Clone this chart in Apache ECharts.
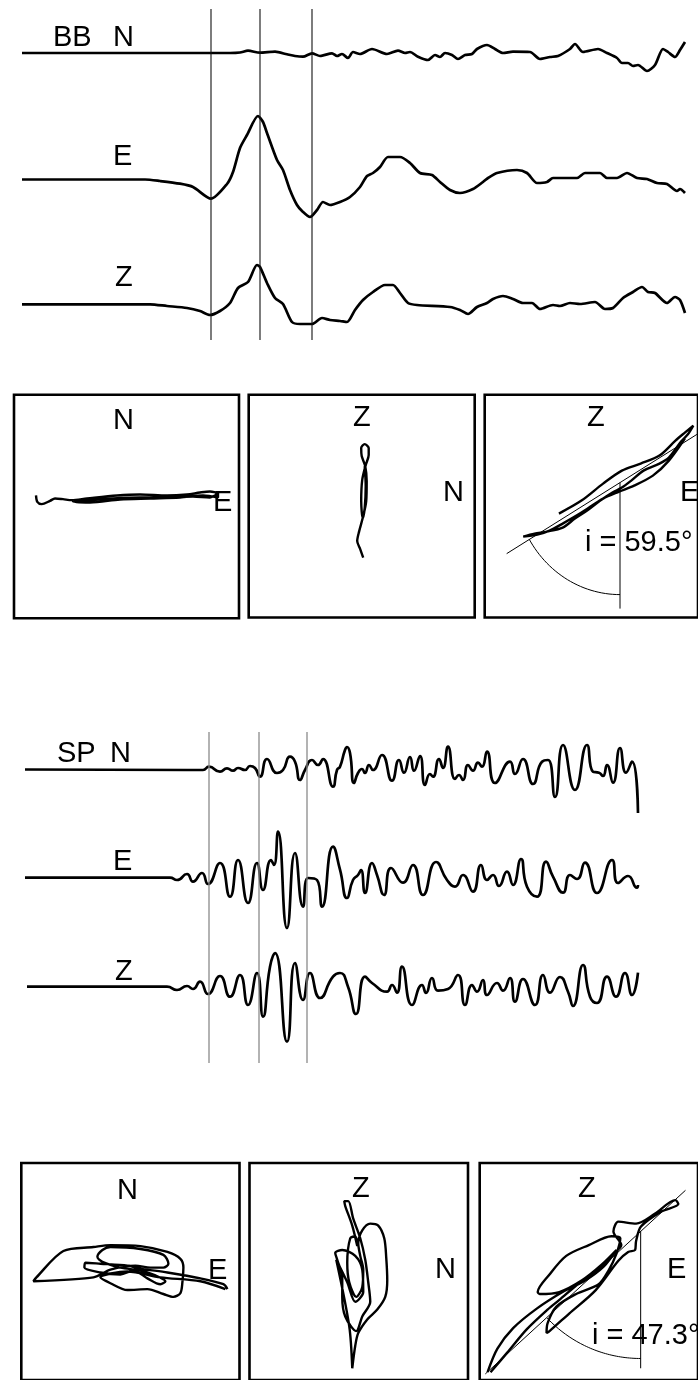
<!DOCTYPE html>
<html>
<head>
<meta charset="utf-8">
<script src="https://cdn.jsdelivr.net/npm/echarts@6/dist/echarts.min.js"></script>
<style>
  html, body { margin: 0; padding: 0; background: #fff; }
  #chart { width: 698px; height: 1380px; }
</style>
</head>
<body>
<div id="chart"></div>
<script>
// ---- Broadband (BB) three-component record: [time s, amplitude] ----
const bbN = [[0,0],[2.08,0],[2.18,0.5],[2.26,2.3],[2.38,0.3],[2.53,1.3],[2.65,-1.3],[2.73,-3],[2.81,-3.7],[2.90,-0.3],[2.98,-3],[3.10,-0.3],[3.15,-3],[3.20,-1],[3.26,-5],[3.31,1],[3.38,-1],[3.50,4],[3.65,-1],[3.76,2.3],[3.83,0],[3.88,1],[3.96,-3.7],[4.06,-7],[4.13,-2],[4.18,-4],[4.23,0],[4.30,-2],[4.36,-6],[4.43,-2],[4.50,-1],[4.55,4],[4.65,8],[4.73,4],[4.81,0],[4.91,1.3],[5.08,1],[5.18,-6],[5.28,-4],[5.36,-3],[5.48,4],[5.53,9],[5.61,1],[5.76,4],[5.85,0],[5.95,-5],[6.00,-10],[6.06,-10],[6.11,-13],[6.16,-12],[6.25,-18],[6.33,-12],[6.41,4],[6.46,1],[6.53,-4],[6.58,3],[6.63,11]];
const bbE = [[0,0],[1.23,0],[1.38,-1.5],[1.58,-4.2],[1.71,-7.5],[1.89,-19.2],[2.05,-4.5],[2.11,7.5],[2.18,31.5],[2.25,44.5],[2.36,63.5],[2.41,57.5],[2.45,46.5],[2.55,19.5],[2.61,9.5],[2.68,-10.5],[2.75,-25.5],[2.81,-32.5],[2.88,-37.5],[2.95,-30.5],[3.01,-22.5],[3.08,-25.5],[3.18,-22.5],[3.28,-17.5],[3.38,-7.5],[3.45,3.5],[3.51,6.5],[3.58,12.5],[3.66,22.5],[3.78,22.5],[3.88,16.5],[3.98,6.5],[4.10,4.5],[4.18,-2.5],[4.28,-10.5],[4.38,-13.5],[4.51,-9.5],[4.61,-2.5],[4.66,1.5],[4.75,6.5],[4.95,9.5],[5.05,6.5],[5.15,-3.5],[5.25,-2.5],[5.31,1.5],[5.55,1.5],[5.63,6.5],[5.78,6.5],[5.85,1.5],[5.95,1.5],[6.05,6.5],[6.15,1.5],[6.25,0.5],[6.35,-3.5],[6.45,-4.5],[6.55,-11.5],[6.58,-9.5],[6.63,-13.5]];
const bbZ = [[0,0],[1.28,0],[1.45,-1.7],[1.65,-3.7],[1.78,-6.7],[1.88,-10.7],[1.98,-6.7],[2.08,1.3],[2.16,16.3],[2.26,22.3],[2.35,39.3],[2.38,37.3],[2.45,21.3],[2.53,6.3],[2.61,0.3],[2.70,-17.7],[2.78,-19.7],[2.90,-19.7],[3.00,-13.7],[3.08,-15.7],[3.18,-16.7],[3.25,-17.7],[3.33,-5.7],[3.41,4.3],[3.51,12.3],[3.63,19.3],[3.71,19.3],[3.78,11.3],[3.86,1.3],[3.95,-0.7],[4.28,-2.7],[4.38,-5.7],[4.46,-9.7],[4.55,-2.7],[4.65,1.3],[4.71,5.3],[4.81,8.3],[4.91,5.3],[5.01,1.3],[5.10,1.3],[5.18,-4.7],[5.31,-0.7],[5.38,-1.7],[5.48,1.3],[5.58,0.3],[5.73,2.3],[5.83,-4.7],[5.91,-3.7],[6.01,6.3],[6.11,12.3],[6.20,17.3],[6.26,12.3],[6.33,11.3],[6.45,1.3],[6.53,7.3],[6.58,4.3],[6.63,-8.7]];
const bbWindow = [1.89, 2.38, 2.90];

// ---- Short-period (SP) three-component record: [time s, amplitude] ----
const spN = [[0,0],[1.62,-0.5],[1.78,-0.5],[1.84,2.8],[1.95,-2.2],[2.02,1.2],[2.08,-1.2],[2.13,1.5],[2.20,-0.5],[2.25,3.5],[2.30,1.5],[2.35,-7.2],[2.42,10.5],[2.52,-3.5],[2.58,-0.5],[2.65,12.8],[2.70,7.8],[2.75,-10.5],[2.80,-0.5],[2.87,9.5],[2.93,4.5],[2.98,10.5],[3.08,-17.2],[3.12,-0.5],[3.15,2.8],[3.20,19.5],[3.22,22.5],[3.25,16.5],[3.29,-13.5],[3.33,-3.5],[3.37,0.5],[3.40,-3.5],[3.44,4.5],[3.48,-0.5],[3.57,14.5],[3.67,-11.2],[3.74,9.5],[3.79,-3.2],[3.85,12.5],[3.89,-1.2],[3.95,13.5],[4.00,-15.5],[4.05,-4.5],[4.08,-7.2],[4.14,10.5],[4.18,1.5],[4.23,22.8],[4.30,-9.5],[4.34,-5.5],[4.38,-10.5],[4.43,4.5],[4.48,-1.2],[4.53,6.8],[4.57,2.8],[4.62,17.8],[4.70,-13.5],[4.85,7.8],[4.90,-4.5],[4.98,10.5],[5.08,-14.5],[5.17,7.8],[5.23,9.5],[5.30,-27.5],[5.38,24.5],[5.50,-20.5],[5.62,24.5],[5.68,-2.2],[5.74,-3.2],[5.78,-6.5],[5.82,4.5],[5.88,-13.2],[5.95,21.5],[6.01,-3.2],[6.07,7.8],[6.13,-43.5]];
const spE = [[0,0],[1.45,0],[1.52,-2.3],[1.62,3.7],[1.68,-4],[1.77,4.7],[1.83,-6.3],[1.95,14.7],[2.05,-19],[2.13,17.7],[2.23,-25.3],[2.32,14.7],[2.38,-12.3],[2.46,17.7],[2.49,12.7],[2.53,46],[2.62,-50.3],[2.70,24.7],[2.78,-29],[2.83,-0.3],[2.92,-2.3],[2.97,-29],[3.08,31],[3.15,8],[3.22,-20.3],[3.28,-2.3],[3.33,2.7],[3.36,7.7],[3.40,-15.3],[3.47,14.7],[3.52,2.7],[3.59,-17.3],[3.66,9.7],[3.78,-5],[3.88,12.7],[3.98,-17.3],[4.11,15.7],[4.22,-2.3],[4.30,-9],[4.38,2.7],[4.48,-14],[4.56,12.7],[4.62,-2.3],[4.68,2.7],[4.74,-8.3],[4.82,6],[4.88,-7.3],[4.96,18.7],[5.02,-9],[5.12,-19],[5.21,16],[5.28,1],[5.38,-15],[5.45,2.7],[5.52,-1.3],[5.60,15],[5.72,-15.3],[5.87,17.7],[5.93,-5.3],[6.03,1.7],[6.12,-10],[6.13,-7.3]];
const spZ = [[0.02,0],[1.42,0],[1.52,-3.3],[1.62,0.7],[1.68,-2.3],[1.75,5],[1.83,-7.3],[1.95,10.7],[2.05,-10],[2.15,11.7],[2.23,-18.3],[2.32,13.7],[2.38,-30],[2.45,20],[2.50,33.7],[2.62,-55],[2.70,23.7],[2.78,-13.3],[2.85,13.7],[2.95,-11.3],[3.08,10],[3.15,13.7],[3.23,0],[3.31,-27.3],[3.40,10],[3.47,3.7],[3.62,-5],[3.67,1.7],[3.72,-6],[3.77,20],[3.87,-18.3],[3.97,1.7],[4.01,-6.3],[4.07,8.7],[4.13,-4],[4.23,-2.3],[4.33,11.7],[4.40,-18.3],[4.47,1.7],[4.52,-5],[4.58,6.7],[4.62,-8.3],[4.72,3.7],[4.78,-4],[4.85,8.7],[4.90,-15],[4.98,7.7],[5.10,-18.3],[5.18,11.7],[5.25,-6],[5.35,9.7],[5.43,-5],[5.48,-19.3],[5.58,21.7],[5.65,-10],[5.72,-16.3],[5.82,10],[5.91,-10],[6.00,13.7],[6.07,-8.3],[6.13,14]];
const spWindow = [1.84, 2.34, 2.82];

// ---- Particle motion inside the window ----
// BB: horizontal plane [E, N], vertical N plane [N, Z], vertical E plane [E, Z]
const bbHodoNE = [[-90.5,11],[-89.2,4.6],[-84.8,2.3],[-76.5,5.6],[-71.5,8],[-63.5,7.3],[-54.8,6.3],[-39.5,8],[-9.5,11],[13.5,12],[40.5,11],[60.5,12],[73.5,14],[83.5,15],[90.5,13],[83.5,9],[66.5,10],[40.5,9],[13.5,9],[-13.5,8],[-39.5,6],[-53.5,5],[-36.5,4],[-6.5,7],[23.5,8],[53.5,9],[76.5,11],[91.5,9],[91.5,14]];
const bbHodoZN = [[1.5,-51.5],[-1.5,-43],[-4.5,-35],[-2.5,-25],[1,-12],[4.5,5],[5,25],[3.5,40],[0,50],[-0.5,58],[3,62],[7,58],[7,51],[4,41],[0.5,26],[-0.5,5],[1,-12],[3,-2],[4,20],[3,40]];
const bbHodoZE = [[-34.5,-7.5],[-10.5,5.5],[12.5,22.5],[32.5,35.5],[52.5,42.5],[72.5,50.5],[89.5,65.5],[99.5,73.5],[108.5,80.5],[102.5,71.5],[95.5,64.5],[82.5,48.5],[72.5,42.5],[55.5,35.5],[42.5,25.5],[32.5,18.5],[22.5,13.5],[9.5,5.5],[-4.5,-4.5],[-17.5,-12.5],[-30.5,-21.5],[-47.5,-25.5],[-60.5,-27.5],[-72.5,-30.5],[-57.5,-28.5],[-44.5,-24.5],[-30.5,-17.5],[-10.5,-6.5],[12.5,7.5],[29.5,14.5],[45.5,20.5],[65.5,30.5],[82.5,45.5],[99.5,67.5]];
const bbIncidence = 59.5;

// SP: same three projections
const spHodoNE = [[97,-18],[93,-13],[70,-7],[37,-1],[10,3],[-3,6],[-30,8],[-45,9],[-46,4],[-30,-1],[-10,-3],[3,1],[17,-7],[30,-13],[35,-10],[25,-4],[10,1],[-10,4],[-28,10],[-33,15],[-28,22],[-20,25],[10,23],[33,17],[38,8],[33,4],[20,4],[5,6],[-20,2],[-37,-6],[-97,-10],[-94,-6],[-67,21],[-37,25],[-20,27],[10,26],[37,20],[50,13],[53,4],[52,-11],[50,-22],[43,-26],[33,-23],[17,-18],[-3,-19],[-20,-12],[-30,-6],[-3,0],[30,-6],[70,-10],[95,-18]];
const spHodoZN = [[-6.5,-99],[-3.5,-76],[-0.5,-63],[8.5,-49],[18.5,-39],[26.5,-26],[28.5,-9],[27.5,14],[25.5,34],[19.5,47],[11.5,49],[3.5,42],[-0.5,29],[1.5,16],[4.5,2],[3.5,-16],[-2.5,-26],[-9.5,-11],[-11.5,9],[-8.5,34],[-3.5,36],[-1.5,26],[-6.5,47],[-13.5,67],[-14.5,72],[-10.5,72],[-5.5,54],[1.5,34],[6.5,12],[9.5,-11],[11.5,-31],[3.5,-46],[-2.5,-61],[-13.5,-46],[-16.5,-26],[-16.5,-6],[-21.5,12],[-23.5,19],[-16.5,22],[-3.5,16],[3.5,2],[4.5,-21],[-3.5,-31],[-11.5,-11],[-22.5,12],[-9.5,-56],[-6.5,-99]];
const spHodoZE = [[-100,-103],[-83,-83],[-63,-59],[-42,-39],[-30,-29],[-10,-12],[10,3],[25,18],[33,27],[25,41],[30,51],[48,49],[67,59],[88,73],[91,69],[73,61],[53,46],[48,31],[47,22],[40,20],[30,11],[7,-19],[-20,-43],[-40,-61],[-43,-63],[-42,-53],[-33,-36],[-13,-23],[10,-13],[20,1],[28,18],[32,34],[23,36],[0,27],[-23,16],[-40,-3],[-52,-21],[-50,-23],[-30,-21],[-7,-9],[13,7],[28,22],[15,5],[-5,-10],[-25,-20],[-53,-38],[-77,-58],[-93,-79],[-103,-103]];
const spIncidence = 47.3;

// ---- Layout ----
const FONT = '29px "Liberation Sans", Arial, Helvetica, sans-serif';
const traceW = 666, tMax = 6.66;
const traces = [
  { data: bbN, left: 22, base: 53,    amp: 45 },
  { data: bbE, left: 22, base: 179.5, amp: 70 },
  { data: bbZ, left: 22, base: 304.3, amp: 60 },
  { data: spN, left: 25, base: 769.5, amp: 50, smooth: 0.55 },
  { data: spE, left: 25, base: 877.7, amp: 60, smooth: 0.55 },
  { data: spZ, left: 25, base: 986.7, amp: 60, smooth: 0.55 }
];
const windows = [
  { picks: bbWindow, left: 22, top: 9,   height: 331, color: '#111', width: 1.1 },
  { picks: spWindow, left: 25, top: 732, height: 331, color: '#8a8a8a', width: 1.3 }
];
const boxes = [
  { data: bbHodoNE, x: 14,    y: 394.7, w: 225,   h: 223.5 },
  { data: bbHodoZN, x: 248.7, y: 394.7, w: 226,   h: 222.8 },
  { data: bbHodoZE, x: 484.7, y: 394.7, w: 227,   h: 222.8, inc: bbIncidence,
    pivot: [30.5, 23.5], back: 140, fwd: 95, drop: 126, r: 112 },
  { data: spHodoNE, x: 21.3,  y: 1163,  w: 218.2, h: 222 },
  { data: spHodoZN, x: 249.5, y: 1163,  w: 218.5, h: 222 },
  { data: spHodoZE, x: 479.7, y: 1163,  w: 222,   h: 222, inc: spIncidence,
    pivot: [52.7, 41], back: 215, fwd: 62, drop: 140, r: 130 }
];

const grid = [], xAxis = [], yAxis = [], series = [];
const hidden = { show: false };

traces.forEach(tr => {
  const gi = grid.length;
  grid.push({ left: tr.left, width: traceW, top: tr.base - tr.amp, height: tr.amp * 2 });
  xAxis.push(Object.assign({ gridIndex: gi, type: 'value', min: 0, max: tMax }, hidden));
  yAxis.push(Object.assign({ gridIndex: gi, type: 'value', min: -tr.amp, max: tr.amp }, hidden));
  series.push({
    type: 'line', xAxisIndex: gi, yAxisIndex: gi, data: tr.data,
    symbol: 'none', smooth: tr.smooth || 0.25, clip: false,
    lineStyle: { color: '#000', width: 2.7 }
  });
});

windows.forEach(w => {
  const gi = grid.length;
  grid.push({ left: w.left, width: traceW, top: w.top, height: w.height });
  xAxis.push(Object.assign({ gridIndex: gi, type: 'value', min: 0, max: tMax }, hidden));
  yAxis.push(Object.assign({ gridIndex: gi, type: 'value', min: 0, max: 1 }, hidden));
  w.picks.forEach(t => series.push({
    type: 'line', xAxisIndex: gi, yAxisIndex: gi, data: [[t, 0], [t, 1]],
    symbol: 'none', lineStyle: { color: w.color, width: w.width }
  }));
});

const rad = d => d * Math.PI / 180;
boxes.forEach(b => {
  const gi = grid.length;
  grid.push({ left: b.x, top: b.y, width: b.w, height: b.h, show: true,
              borderColor: '#000', borderWidth: 2.6, backgroundColor: 'transparent' });
  xAxis.push(Object.assign({ gridIndex: gi, type: 'value', min: -b.w / 2, max: b.w / 2 }, hidden));
  yAxis.push(Object.assign({ gridIndex: gi, type: 'value', min: -b.h / 2, max: b.h / 2 }, hidden));
  series.push({
    type: 'line', xAxisIndex: gi, yAxisIndex: gi, data: b.data,
    symbol: 'none', smooth: 0.3, clip: false,
    lineStyle: { color: '#000', width: 2.4 }
  });
  if (b.inc !== undefined) {
    // polarisation direction at the incidence angle, measured from the vertical
    const s = Math.sin(rad(b.inc)), c = Math.cos(rad(b.inc));
    const [px, py] = b.pivot;
    const thin = { color: '#000', width: 1 };
    series.push({ type: 'line', xAxisIndex: gi, yAxisIndex: gi, symbol: 'none', clip: false,
      data: [[px - b.back * s, py - b.back * c], [px + b.fwd * s, py + b.fwd * c]], lineStyle: thin });
    series.push({ type: 'line', xAxisIndex: gi, yAxisIndex: gi, symbol: 'none', clip: false,
      data: [[px, py], [px, py - b.drop]], lineStyle: thin });
    const arc = [];
    for (let a = 0; a <= b.inc + 1e-9; a += 1) {
      arc.push([px - b.r * Math.sin(rad(a)), py - b.r * Math.cos(rad(a))]);
    }
    arc.push([px - b.r * s, py - b.r * c]);
    series.push({ type: 'line', xAxisIndex: gi, yAxisIndex: gi, symbol: 'none', clip: false,
      data: arc, lineStyle: thin });
  }
});

// ---- Text labels ----
const labels = [
  ['BB', 53, 37.5], ['N', 113, 37.5], ['E', 113, 156.7], ['Z', 115, 278],
  ['SP', 57, 754], ['N', 110, 754], ['E', 113, 861.5], ['Z', 115, 972],
  ['N', 113, 421], ['E', 213, 502.5],
  ['Z', 353, 418], ['N', 443, 493],
  ['Z', 587, 418], ['E', 680, 493], ['i = ' + bbIncidence + '\u00b0', 585, 543],
  ['N', 117, 1191], ['E', 208, 1271],
  ['Z', 352, 1189], ['N', 435, 1270],
  ['Z', 578, 1189], ['E', 667, 1270], ['i = ' + spIncidence + '\u00b0', 592, 1336]
];
const graphic = labels.map(([text, x, y]) => ({
  type: 'text', x, y, z: 100,
  style: { text, fill: '#000', font: FONT, align: 'left', verticalAlign: 'middle',
           textAlign: 'left', textVerticalAlign: 'middle' }
}));

const chart = echarts.init(document.getElementById('chart'), null, { renderer: 'canvas' });
chart.setOption({
  animation: false,
  backgroundColor: '#fff',
  grid, xAxis, yAxis, series, graphic
});
</script>
</body>
</html>
